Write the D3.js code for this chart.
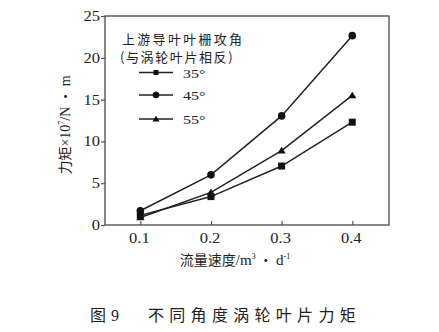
<!DOCTYPE html>
<html>
<head>
<meta charset="utf-8">
<script src="https://cdn.jsdelivr.net/npm/d3@7/dist/d3.min.js"></script>
<style>
  html, body { margin: 0; padding: 0; background: #fff; }
  svg { display: block; }
</style>
</head>
<body>
<svg id="chart" width="439" height="332"></svg>
<script>
// Flow rate (m³/d) at which torque was measured
const flowRates = [0.1, 0.2, 0.3, 0.4];
const xTicks = [0.1, 0.2, 0.3, 0.4];
const yTicks = [0, 5, 10, 15, 20, 25];

// Blade torque (×10⁷ N·m) for each upstream guide-vane attack angle
const torque35 = [1.15, 3.4, 7.05, 12.3];
const torque45 = [1.7, 6.0, 13.05, 22.65];
const torque55 = [0.9, 3.9, 8.9, 15.5];

const seriesNames = ["35°", "45°", "55°"];
const seriesMarkers = ["square", "circle", "triangle"];

const legendTitle1 = "上游导叶叶栅攻角";
const legendTitle2 = "(与涡轮叶片相反)";

const series = [
  { name: seriesNames[0], marker: seriesMarkers[0], values: torque35 },
  { name: seriesNames[1], marker: seriesMarkers[1], values: torque45 },
  { name: seriesNames[2], marker: seriesMarkers[2], values: torque55 }
];

const svg = d3.select("#chart");
const SERIF = "'Liberation Serif', 'Times New Roman', serif";
const CJK = "'Noto Sans CJK SC', 'Noto Sans', sans-serif";
const INK = "#222";
const FRAME = "#555";

const plot = { left: 105, right: 389, top: 16, bottom: 225 };

const x = d3.scaleLinear().domain([0.05, 0.452]).range([plot.left, plot.right]);
const y = d3.scaleLinear().domain([0, 25]).range([plot.bottom, plot.top]);

// Serif text with a slight horizontal stretch
function serifText(parent, px, py, str, anchor, size) {
  return parent.append("text")
    .attr("transform", `translate(${px},${py}) scale(1.18,1)`)
    .attr("text-anchor", anchor)
    .attr("font-family", SERIF)
    .attr("font-size", size)
    .attr("fill", INK)
    .text(str);
}

// Axes: y ticks point outward, x ticks point inward
const yAxis = d3.axisLeft(y).tickValues(yTicks).tickSize(4).tickFormat("");
svg.append("g").attr("transform", `translate(${plot.left},0)`).call(yAxis)
  .call(g => g.select(".domain").remove())
  .call(g => g.selectAll(".tick line").attr("stroke", FRAME).attr("stroke-width", 1.2));

const xAxis = d3.axisTop(x).tickValues(xTicks).tickSize(4).tickFormat("");
svg.append("g").attr("transform", `translate(0,${plot.bottom})`).call(xAxis)
  .call(g => g.select(".domain").remove())
  .call(g => g.selectAll(".tick line").attr("stroke", FRAME).attr("stroke-width", 1.2));

// Frame
svg.append("rect")
  .attr("x", plot.left).attr("y", plot.top)
  .attr("width", plot.right - plot.left).attr("height", plot.bottom - plot.top)
  .attr("fill", "none").attr("stroke", FRAME).attr("stroke-width", 1.4);

// Tick labels
yTicks.forEach(v => serifText(svg, 100, y(v) + 5, String(v), "end", 14));
xTicks.forEach(v => serifText(svg, x(v) - 1, 243, d3.format(".1f")(v), "middle", 14));

// Axis titles
const xt = svg.append("text")
  .attr("x", 235).attr("y", 265)
  .attr("text-anchor", "middle")
  .attr("fill", INK);
xt.append("tspan").attr("font-family", CJK).attr("font-size", 14).text("流量速度");
xt.append("tspan").attr("font-family", SERIF).attr("font-size", 15).text("/m");
xt.append("tspan").attr("font-family", SERIF).attr("font-size", 8).attr("dy", -6).text("3");
xt.append("tspan").attr("font-family", CJK).attr("font-size", 14).attr("dy", 6).text(" ・ ");
xt.append("tspan").attr("font-family", SERIF).attr("font-size", 15).text("d");
xt.append("tspan").attr("font-family", SERIF).attr("font-size", 8).attr("dy", -6).text("-1");

const yt = svg.append("text")
  .attr("transform", "translate(70,125) rotate(-90)")
  .attr("text-anchor", "middle")
  .attr("fill", INK);
yt.append("tspan").attr("font-family", CJK).attr("font-size", 14).text("力矩");
yt.append("tspan").attr("font-family", SERIF).attr("font-size", 14).text("×10");
yt.append("tspan").attr("font-family", SERIF).attr("font-size", 8).attr("dy", -6).text("7");
yt.append("tspan").attr("font-family", SERIF).attr("font-size", 14).attr("dy", 6).text("/N");
yt.append("tspan").attr("font-family", CJK).attr("font-size", 14).text(" ・ ");
yt.append("tspan").attr("font-family", SERIF).attr("font-size", 14).text("m");

// Marker drawing
function drawMarker(g, type, cx, cy, s) {
  if (type === "square") {
    g.append("rect").attr("x", cx - s / 2).attr("y", cy - s / 2)
      .attr("width", s).attr("height", s).attr("fill", "#111");
  } else if (type === "circle") {
    g.append("circle").attr("cx", cx).attr("cy", cy).attr("r", s / 2 + 0.3).attr("fill", "#111");
  } else {
    const h = s * 0.9;
    g.append("path")
      .attr("d", `M${cx},${cy - h * 0.6}L${cx + s / 2 + 0.6},${cy + h * 0.45}L${cx - s / 2 - 0.6},${cy + h * 0.45}Z`)
      .attr("fill", "#111");
  }
}

// Series lines and markers
const line = d3.line().x((d, i) => x(flowRates[i])).y(d => y(d));
series.forEach(s => {
  const g = svg.append("g");
  g.append("path").attr("d", line(s.values))
    .attr("fill", "none").attr("stroke", INK).attr("stroke-width", 1.5);
  s.values.forEach((v, i) => drawMarker(g, s.marker, x(flowRates[i]), y(v), 7));
});

// Legend: two-line title, then the series keys
const lg = svg.append("g");
const title = lg.append("text")
  .attr("font-family", CJK).attr("font-size", 13).attr("fill", INK);
title.append("tspan").attr("x", 122).attr("y", 43.5).attr("letter-spacing", 2.3).text(legendTitle1);
title.append("tspan").attr("x", 120).attr("y", 62).attr("letter-spacing", 1.6).text(legendTitle2);

const legendY = [72.5, 95, 119];
series.forEach((s, i) => {
  const ly = legendY[i];
  lg.append("line").attr("x1", 139).attr("x2", 173).attr("y1", ly).attr("y2", ly)
    .attr("stroke", INK).attr("stroke-width", 1.5);
  drawMarker(lg, s.marker, 156, ly, s.marker === "square" ? 5 : 6);
  serifText(lg, 183, ly + 5, s.name, "start", 13.5);
});

// Caption
svg.append("text").attr("x", 90).attr("y", 321)
  .attr("font-family", CJK).attr("font-size", 16)
  .attr("fill", INK)
  .call(t => {
    t.append("tspan").text("图");
    t.append("tspan").attr("font-family", SERIF).attr("dx", 5).text("9");
    t.append("tspan").attr("x", 148).attr("letter-spacing", 5.3).text("不同角度涡轮叶片力矩");
  });
</script>
</body>
</html>
